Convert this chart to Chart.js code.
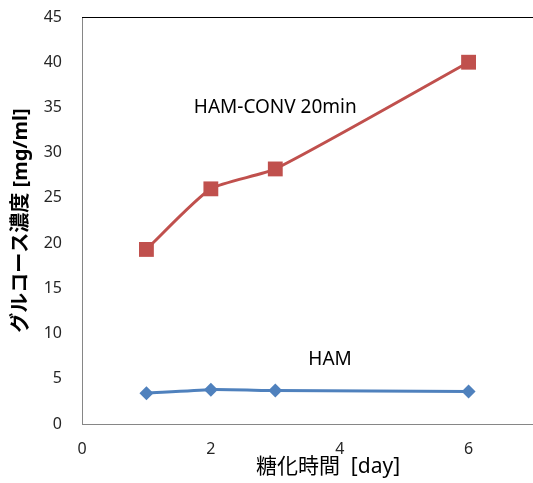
<!DOCTYPE html>
<html>
<head>
<meta charset="utf-8">
<script src="https://cdn.jsdelivr.net/npm/chart.js@4.4.0/dist/chart.umd.min.js"></script>
<style>
  html, body { margin: 0; padding: 0; background: #fff; overflow: hidden; }
  #wrap { width: 533px; height: 483px; position: relative; }
  canvas { display: block; }
</style>
</head>
<body>
<div id="wrap"><canvas id="chart"></canvas></div>
<script>
// ==================== DATA ====================
const days = [1, 2, 3, 6];
const hamConv = [19.3, 26.0, 28.2, 40.0];
const ham = [3.4, 3.8, 3.7, 3.6];
const xTicks = [0, 2, 4, 6];
const yTicks = [0, 5, 10, 15, 20, 25, 30, 35, 40, 45];
const seriesNames = ['HAM-CONV 20min', 'HAM'];
// where the series labels sit, in data units
const labelSpots = [[3.0, 35.0], [3.85, 7.1]];
const xTitle = '糖化時間  [day]';
const yTitle = 'グルコース濃度 [mg/ml]';

const FONT = "'Noto Sans', 'Noto Sans CJK JP', sans-serif";

// ==================== LABEL + BORDER PLUGIN ====================
const extras = {
  id: 'extras',
  afterDraw(chart){
    const c = chart.ctx, a = chart.chartArea;
    const xs = chart.scales.x, ys = chart.scales.y;
    c.save();
    c.strokeStyle = '#000';
    c.lineWidth = 1;
    c.beginPath();
    c.moveTo(a.left, a.top + 0.5);
    c.lineTo(a.right, a.top + 0.5);
    c.stroke();
    c.fillStyle = '#000';
    c.font = '19px ' + FONT;
    c.textAlign = 'center';
    c.textBaseline = 'middle';
    seriesNames.forEach((n, i) => {
      c.fillText(n, xs.getPixelForValue(labelSpots[i][0]), ys.getPixelForValue(labelSpots[i][1]));
    });
    // x axis title, sits a bit right of centre like the original
    c.font = '21px ' + FONT;
    c.fillText(xTitle, 328, 467);
    c.restore();
  }
};

// ==================== CHART ====================
const toPoints = vals => days.map((d, i) => ({x: d, y: vals[i]}));

new Chart(document.getElementById('chart'), {
  type: 'line',
  data: {
    datasets: [
      {
        label: seriesNames[0],
        data: toPoints(hamConv),
        borderColor: '#C0504D',
        backgroundColor: '#C0504D',
        borderWidth: 3,
        pointStyle: 'rect',
        pointRadius: 10.5,
        pointBorderWidth: 0,
        tension: 0.2
      },
      {
        label: seriesNames[1],
        data: toPoints(ham),
        borderColor: '#4F81BD',
        backgroundColor: '#4F81BD',
        borderWidth: 3,
        pointStyle: 'rectRot',
        pointRadius: 7,
        pointBorderWidth: 0,
        tension: 0.2
      }
    ]
  },
  options: {
    responsive: true,
    maintainAspectRatio: false,
    animation: false,
    layout: { autoPadding: false, padding: { top: 17, right: 0, left: 0, bottom: 0 } },
    plugins: { legend: { display: false }, tooltip: { enabled: false } },
    scales: {
      x: {
        type: 'linear',
        min: 0, max: 7,
        afterBuildTicks: s => { s.ticks = xTicks.map(v => ({value: v})); },
        afterFit: s => { s.height = 59; s.paddingLeft = 0; s.paddingRight = 0; },
        grid: { display: false, drawTicks: false },
        border: { display: true, color: '#868686', width: 1 },
        ticks: { padding: 16, color: '#262626', font: { family: FONT, size: 16 } }
      },
      y: {
        min: 0, max: 45,
        afterBuildTicks: s => { s.ticks = yTicks.map(v => ({value: v})); },
        afterFit: s => { s.width = 82; s.paddingTop = 0; s.paddingBottom = 0; },
        grid: { display: false, drawTicks: false },
        border: { display: true, color: '#868686', width: 1 },
        ticks: { padding: 20, color: '#262626', font: { family: FONT, size: 16 } },
        title: {
          display: true,
          text: yTitle,
          color: '#000',
          padding: { top: 9, bottom: 0 },
          font: { family: FONT, size: 20, weight: 'bold' }
        }
      }
    }
  },
  plugins: [extras]
});
</script>
</body>
</html>
